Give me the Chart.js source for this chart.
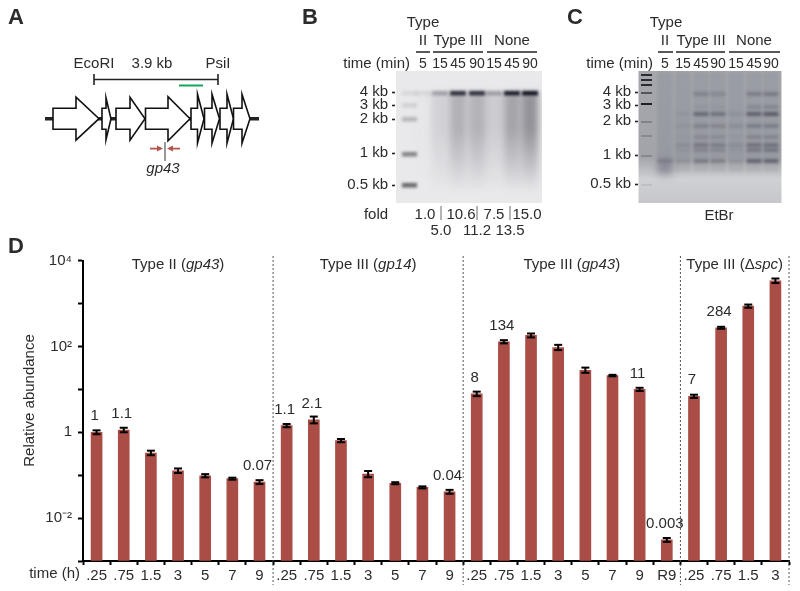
<!DOCTYPE html>
<html>
<head>
<meta charset="utf-8">
<script src="https://cdn.jsdelivr.net/npm/chart.js@4"></script>
<style>
html, body { margin: 0; padding: 0; background: #fff; }
canvas { display: block; }
</style>
</head>
<body>
<canvas id="grafico" width="800" height="591"></canvas>
<script>
// panel D data
const timeLabels = [".25", ".75", "1.5", "3", "5", "7", "9",
	".25", ".75", "1.5", "3", "5", "7", "9",
	".25", ".75", "1.5", "3", "5", "7", "9", "R9",
	".25", ".75", "1.5", "3"]
const abundance = [1, 1.13, 0.33, 0.127, 0.097, 0.083, 0.069,
	1.43, 1.94, 0.64, 0.106, 0.065, 0.052, 0.041,
	7.85, 129, 181, 95, 28, 21, 10, 0.0031,
	6.9, 273, 872, 3400]
const errorFactor = [1.11, 1.13, 1.13, 1.13, 1.09, 1.055, 1.11,
	1.09, 1.2, 1.09, 1.18, 1.055, 1.055, 1.11,
	1.13, 1.09, 1.11, 1.15, 1.15, 1.04, 1.09, 1.11,
	1.09, 1.055, 1.09, 1.13]
const groupSizes = [7, 7, 8, 4]
const groupNames = [
	[["Type II (", 0], ["gp43", 1], [")", 0]],
	[["Type III (", 0], ["gp14", 1], [")", 0]],
	[["Type III (", 0], ["gp43", 1], [")", 0]],
	[["Type III (\u0394", 0], ["spc", 1], [")", 0]],
]
const foldIndex = [0, 1, 6, 7, 8, 13, 14, 15, 20, 21, 22, 23]
const foldText = ["1", "1.1", "0.07", "1.1", "2.1", "0.04", "8", "134", "11", "0.003", "7", "284"]
const yTicks = [1e-3, 1e-2, 1e-1, 1, 10, 100, 1000, 10000]
const yTickText = { 0.01: "10\u207B\u00B2", 1: "1", 100: "10\u00B2", 10000: "10\u2074" }

// panel B / C data
const laneMinutes = ["5", "15", "45", "90", "15", "45", "90"]
const kbLabels = ["4 kb", "3 kb", "2 kb", "1 kb", "0.5 kb"]
const foldTop = ["1.0", "10.6", "7.5", "15.0"]
const foldBottom = ["5.0", "11.2", "13.5"]
const blotBand = [0.08, 0.3, 0.85, 0.85, 0.3, 0.95, 1]
const blotSmear = [0.01, 0.13, 0.33, 0.32, 0.16, 0.4, 0.5]
const blotLadder = [0.08, 0.12, 0.25, 0.5, 0.65]
const gelBands = [
	[0, 0, 0, 0, 0, 0, 0, 0.3],
	[0, 0, 0.06, 0.08, 0.03, 0.14, 0.06, 0.16],
	[0.25, 0.05, 0.5, 0.26, 0.18, 0.34, 0.22, 0.38],
	[0.2, 0.05, 0.42, 0.22, 0.15, 0.3, 0.2, 0.33],
	[0, 0, 0.1, 0.14, 0.03, 0.14, 0.06, 0.14],
	[0.3, 0.18, 0.6, 0.3, 0.22, 0.42, 0.34, 0.6],
	[0.34, 0.22, 0.65, 0.3, 0.22, 0.42, 0.38, 0.6],
]

const FONTE = "'Liberation Sans', Arial, sans-serif"
const TEXTO = "#2b2b2b"

function escreve(ctx, txt, x, y, align = "center", size = 15, style = "") {
	ctx.font = `${style} ${size}px ${FONTE}`
	ctx.fillStyle = TEXTO
	ctx.textAlign = align
	ctx.textBaseline = "middle"
	ctx.fillText(txt, x, y)
}

function linha(ctx, x1, y1, x2, y2, w = 1.5, cor = "#222") {
	ctx.strokeStyle = cor
	ctx.lineWidth = w
	ctx.beginPath()
	ctx.moveTo(x1, y1)
	ctx.lineTo(x2, y2)
	ctx.stroke()
}

// text with normal and italic pieces, centered on x
function escrevePartes(ctx, partes, x, y) {
	let total = 0
	for (const p of partes) {
		ctx.font = `${p[1] ? "italic" : ""} 15px ${FONTE}`
		total += ctx.measureText(p[0]).width
	}
	let cx = x - total / 2
	for (const p of partes) {
		escreve(ctx, p[0], cx, y, "left", 15, p[1] ? "italic" : "")
		cx += ctx.measureText(p[0]).width
	}
}

function seta(ctx, x, base, ponta, meio, alto) {
	ctx.beginPath()
	ctx.moveTo(x, meio - 10.5)
	ctx.lineTo(base, meio - 10.5)
	ctx.lineTo(base, meio - alto)
	ctx.lineTo(ponta, meio)
	ctx.lineTo(base, meio + alto)
	ctx.lineTo(base, meio + 10.5)
	ctx.lineTo(x, meio + 10.5)
	ctx.closePath()
	ctx.fillStyle = "#fff"
	ctx.fill()
	ctx.stroke()
}

function painelA(ctx) {
	escreve(ctx, "A", 8, 18, "left", 22, "bold")
	escreve(ctx, "EcoRI", 94, 64)
	escreve(ctx, "3.9 kb", 152, 64)
	escreve(ctx, "PsiI", 218, 64)
	linha(ctx, 94, 79.5, 218, 79.5, 1.6)
	linha(ctx, 94, 74, 94, 85, 1.6)
	linha(ctx, 218, 74, 218, 85, 1.6)
	linha(ctx, 179, 85.5, 203, 85.5, 2, "#12a85c")

	linha(ctx, 45, 118.7, 259, 118.7, 3.5, "#222")
	ctx.strokeStyle = "#111"
	ctx.lineWidth = 1.6
	ctx.lineJoin = "miter"
	seta(ctx, 53, 76, 99, 118.7, 21.5)
	seta(ctx, 102, 106, 111, 118.7, 21)
	seta(ctx, 116, 130, 145, 118.7, 21.5)
	seta(ctx, 145.5, 168, 190, 118.7, 22)
	seta(ctx, 191, 197.5, 204, 118.7, 24.5)
	seta(ctx, 204.5, 212, 219.5, 118.7, 24.5)
	seta(ctx, 220, 227, 233.5, 118.7, 24.5)
	seta(ctx, 233.5, 242, 250, 118.7, 24.5)

	linha(ctx, 165, 142, 165, 161, 1, "#333")
	linha(ctx, 150, 148.6, 161, 148.6, 1.8, "#b0574e")
	linha(ctx, 169, 148.6, 180, 148.6, 1.8, "#b0574e")
	ctx.fillStyle = "#b0574e"
	ctx.beginPath()
	ctx.moveTo(163, 148.6); ctx.lineTo(157, 145.6); ctx.lineTo(157, 151.6); ctx.closePath()
	ctx.moveTo(167, 148.6); ctx.lineTo(173, 145.6); ctx.lineTo(173, 151.6); ctx.closePath()
	ctx.fill()
	escreve(ctx, "gp43", 163, 169, "center", 15, "italic")
}

function cabecalho(ctx, letra, xLetra, lanes, xHoras, xTipo, traco) {
	escreve(ctx, letra, xLetra, 18, "left", 22, "bold")
	escreve(ctx, "Type", xTipo, 23)
	escreve(ctx, "II", lanes[0], 41)
	escreve(ctx, "Type III", lanes[2], 41)
	escreve(ctx, "None", lanes[5], 41)
	for (const t of traco) linha(ctx, t[0], 52, t[1], 52, 1.5)
	escreve(ctx, "time (min)", xHoras, 64, "right")
	lanes.forEach((x, i) => escreve(ctx, laneMinutes[i], x, 64, "center", 14))
}

function painelB(ctx) {
	const lanes = [423, 440, 458, 477, 494, 512, 530]
	cabecalho(ctx, "B", 302, lanes, 410, 423, [[416, 430], [433, 483], [487, 537]])

	ctx.save()
	ctx.beginPath()
	ctx.rect(396, 71, 146, 132)
	ctx.clip()
	ctx.fillStyle = "#e9e9ec"
	ctx.fillRect(396, 71, 146, 132)
	ctx.filter = "blur(3.5px)"
	lanes.forEach((x, i) => {
		const g = ctx.createLinearGradient(0, 95, 0, 192)
		g.addColorStop(0, `rgba(60,60,70,${blotSmear[i]})`)
		g.addColorStop(0.35, `rgba(60,60,70,${blotSmear[i]})`)
		g.addColorStop(0.7, `rgba(60,60,70,${blotSmear[i] * 0.5})`)
		g.addColorStop(1, "rgba(60,60,70,0)")
		ctx.fillStyle = g
		ctx.fillRect(x - 8.5, 93, 17, 100)
	})
	ctx.filter = "blur(1.5px)"
	lanes.forEach((x, i) => {
		ctx.fillStyle = `rgba(15,15,30,${blotBand[i]})`
		ctx.fillRect(x - 8, 91, 16, 4.5)
	})
	;[93, 105, 119, 154, 185].forEach((y, i) => {
		ctx.fillStyle = `rgba(30,30,35,${blotLadder[i]})`
		ctx.fillRect(402, y - 2, 15, 4.5)
	})
	ctx.restore()

	;[92, 105, 119, 153, 185].forEach((y, i) => {
		escreve(ctx, kbLabels[i], 388, y, "right")
		linha(ctx, 392, y + 0.5, 395, y + 0.5, 1.6)
	})
	escreve(ctx, "fold", 376, 215)
	;[425, 461, 494, 527].forEach((x, i) => escreve(ctx, foldTop[i], x, 215))
	;[441, 477, 510].forEach((x, i) => {
		escreve(ctx, foldBottom[i], x, 231)
		linha(ctx, x, 206, x, 220, 0.8, "#444")
	})
}

function painelC(ctx) {
	const lanes = [665, 683, 701, 718, 736, 754, 771]
	cabecalho(ctx, "C", 567, lanes, 653, 666, [[658, 673], [676, 725], [729, 780]])

	ctx.save()
	ctx.beginPath()
	ctx.rect(638.5, 71, 143, 132)
	ctx.clip()
	const fundo = ctx.createLinearGradient(0, 71, 0, 203)
	fundo.addColorStop(0, "#a5a7ad")
	fundo.addColorStop(0.65, "#a2a4aa")
	fundo.addColorStop(0.82, "#d0d1d4")
	fundo.addColorStop(1, "#c6c7cb")
	ctx.fillStyle = fundo
	ctx.fillRect(638, 71, 144, 132)

	ctx.filter = "blur(1.4px)"
	lanes.forEach((x, i) => {
		ctx.fillStyle = "rgba(70,72,85,0.1)"
		ctx.fillRect(x - 7.5, 72, 15, 100)
		gelBands[i].forEach((v, j) => {
			const y = [94, 107, 114, 126, 137, 145, 150, 161][j]
			ctx.fillStyle = `rgba(40,42,55,${v})`
			ctx.fillRect(x - 7.5, y - 1.7, 15, 3.4)
		})
	})
	ctx.filter = "blur(4px)"
	ctx.fillStyle = "rgba(110,110,125,0.55)"
	ctx.fillRect(658, 160, 14, 15)
	ctx.filter = "blur(0.5px)"
	;[[75, 0.9], [80, 0.9], [85, 0.9], [93, 0.6], [104, 1], [122, 0.25], [136, 0.2], [156, 0.2], [185, 0.08]].forEach((b) => {
		ctx.fillStyle = `rgba(30,30,40,${b[1]})`
		ctx.fillRect(641, b[0] - 1, 11, 2)
	})
	ctx.restore()

	;[92, 105, 121, 155, 184].forEach((y, i) => {
		escreve(ctx, kbLabels[i], 631, y, "right")
		linha(ctx, 635, y + 0.5, 638, y + 0.5, 1.6)
	})
	escreve(ctx, "EtBr", 719, 216)
}

const paineis = {
	id: "paineis",
	beforeDraw(chart) {
		const ctx = chart.ctx
		ctx.save()
		painelA(ctx)
		painelB(ctx)
		painelC(ctx)
		ctx.restore()
	},
	afterDraw(chart) {
		const ctx = chart.ctx
		const x = chart.scales.x
		const y = chart.scales.y
		const passo = x.getPixelForValue(1) - x.getPixelForValue(0)
		ctx.save()

		// error bars
		abundance.forEach((v, i) => {
			const px = x.getPixelForValue(i)
			const alto = y.getPixelForValue(v * errorFactor[i])
			const baixo = y.getPixelForValue(v / errorFactor[i])
			linha(ctx, px, alto, px, baixo, 2, "#000")
			linha(ctx, px - 4, alto, px + 4, alto, 2, "#000")
			linha(ctx, px - 4, baixo, px + 4, baixo, 2, "#000")
		})

		// fold labels over the bars
		foldIndex.forEach((idx, i) => {
			escreve(ctx, foldText[i], x.getPixelForValue(idx) - 2, y.getPixelForValue(abundance[idx]) - 16)
		})

		// group dividers and names
		let inicio = 0
		groupSizes.forEach((n, g) => {
			const fim = inicio + n
			const xFim = x.getPixelForValue(fim - 1) + passo / 2
			const xIni = x.getPixelForValue(inicio) - passo / 2
			ctx.setLineDash([2, 2])
			linha(ctx, xFim, 256, xFim, 585, 0.9, "#444")
			ctx.setLineDash([])
			escrevePartes(ctx, groupNames[g], (xIni + xFim) / 2, 265)
			inicio = fim
		})

		escreve(ctx, "D", 8, 247, "left", 22, "bold")
		escreve(ctx, "time (h)", 80, 574, "right")
		ctx.translate(30, 400.5)
		ctx.rotate(-Math.PI / 2)
		escreve(ctx, "Relative abundance", 0, 0)
		ctx.restore()
	},
}

new Chart(document.getElementById("grafico"), {
	type: "bar",
	data: {
		labels: timeLabels,
		datasets: [{
			data: abundance,
			backgroundColor: "#a94d46",
			barThickness: 11,
			base: 1e-3,
		}],
	},
	plugins: [paineis],
	options: {
		responsive: false,
		animation: false,
		events: [],
		layout: { padding: { left: 0, top: 260.7, right: 11, bottom: 0 } },
		plugins: { legend: { display: false }, tooltip: { enabled: false } },
		scales: {
			x: {
				offset: true,
				afterFit: (s) => { s.height = 30 },
				border: { color: "#000", width: 2 },
				grid: { offset: true, drawOnChartArea: false, tickLength: 4, tickWidth: 2, tickColor: "#000" },
				ticks: {
					autoSkip: false,
					maxRotation: 0,
					padding: 2,
					color: TEXTO,
					font: { family: FONTE, size: 15 },
				},
			},
			y: {
				type: "logarithmic",
				min: 1e-3,
				max: 1e4,
				afterFit: (s) => { s.width = 83 },
				afterBuildTicks: (s) => { s.ticks = yTicks.map((v) => ({ value: v, major: true })) },
				border: { color: "#000", width: 2 },
				grid: { drawOnChartArea: false, tickLength: 5, tickWidth: 2, tickColor: "#000" },
				ticks: {
					autoSkip: false,
					padding: 6,
					color: TEXTO,
					font: { family: FONTE, size: 15 },
					callback: (v) => yTickText[v] || "",
				},
			},
		},
	},
})
</script>
</body>
</html>
